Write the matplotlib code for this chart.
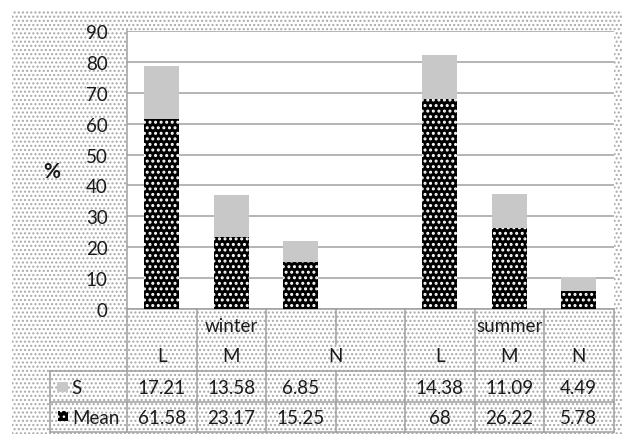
import numpy as np
import matplotlib
matplotlib.use("Agg")
import matplotlib.pyplot as plt
from matplotlib.patches import Rectangle
from matplotlib.lines import Line2D
from matplotlib.transforms import blended_transform_factory

plt.rcParams['font.family'] = ['Lato', 'DejaVu Sans']
plt.rcParams['hatch.linewidth'] = 1.0

# data
categories = ['L', 'M', 'N', '', 'L', 'M', 'N']
groups = ['winter', 'summer']
group_cols = [(0, 2), (4, 6)]
mean_vals = [61.58, 23.17, 15.25, np.nan, 68, 26.22, 5.78]
s_vals = [17.21, 13.58, 6.85, np.nan, 14.38, 11.09, 4.49]

W, H = 628, 435
GRID = '#a0a0a0'
TXT = '#1a1a1a'
FS = 13.5


def fx(px):
    return px / W


def fy(py):
    return 1 - py / H


fig = plt.figure(figsize=(W / 100, H / 100), dpi=100)

# dotted chart background
bg = Rectangle((fx(12), 0), fx(622) - fx(12), fy(12), transform=fig.transFigure,
               facecolor='white', edgecolor='#a8a8a8', hatch='....', linewidth=0, zorder=-5)
fig.patches.append(bg)

ax = fig.add_axes([fx(127), fy(310), fx(613.5) - fx(127), fy(32) - fy(310)])
ax.set_facecolor('white')

x = np.arange(len(categories))
mean = np.array(mean_vals)
s = np.array(s_vals)
mean_bars = ax.bar(x, mean, width=0.5, color='black', edgecolor='white', linewidth=0,
                   hatch='...', zorder=3)
for p in mean_bars:
    if hasattr(p, 'set_hatch_linewidth'):
        p.set_hatch_linewidth(1.4)
ax.bar(x, s, bottom=mean, width=0.5, color='#c8c8c8', linewidth=0, zorder=3)

ax.set_xlim(-0.5, len(categories) - 0.5)
ax.set_ylim(0, 90)
ax.set_yticks(range(0, 91, 10))
ax.set_xticks([])
ax.yaxis.grid(True, color=GRID, linewidth=1.1)
ax.set_axisbelow(True)
for side in ['top', 'right']:
    ax.spines[side].set_visible(False)
for side in ['left', 'bottom']:
    ax.spines[side].set_color(GRID)
    ax.spines[side].set_linewidth(1.1)
ax.tick_params(axis='y', length=0, pad=14, labelsize=FS, labelcolor=TXT)

fig.text(fx(52), fy(172), '%', ha='center', va='center', fontsize=15,
         fontweight='bold', color=TXT)

# data table under the axis
tr = blended_transform_factory(ax.transData, fig.transFigure)
y_top, y_mid, y_hdr, y_s, y_bot = 310, 345, 372, 403, 433


def vline(xd, p0, p1):
    fig.add_artist(Line2D([xd, xd], [fy(p0), fy(p1)], transform=tr,
                          color=GRID, linewidth=1.1))


def hline(py):
    fig.add_artist(Line2D([fx(50), fx(613.5)], [fy(py), fy(py)],
                          transform=fig.transFigure, color=GRID, linewidth=1.1))


for b in np.arange(-0.5, len(categories)):
    i = int(b + 0.5)
    if 0 < i < len(categories) and categories[i] == '':
        vline(b, y_top, y_mid)
        vline(b, y_hdr, y_bot)
    else:
        vline(b, y_top, y_bot)

for py in (y_hdr, y_s, y_bot):
    hline(py)
fig.add_artist(Line2D([fx(50), fx(50)], [fy(y_hdr), fy(y_bot)],
                      transform=fig.transFigure, color=GRID, linewidth=1.1))

for name, (a, b) in zip(groups, group_cols):
    fig.text((a + b) / 2, fy(326), name, transform=tr, ha='center', va='center',
             fontsize=FS, color=TXT)

for i, c in enumerate(categories):
    if not c:
        continue
    pos = i + 0.5 if i + 1 < len(categories) and categories[i + 1] == '' else i
    fig.text(pos, fy(357), c, transform=tr, ha='center', va='center',
             fontsize=FS, color=TXT)

for row_y, vals in ((388, s_vals), (419, mean_vals)):
    for i, v in enumerate(vals):
        if np.isnan(v):
            continue
        fig.text(i, fy(row_y), f'{v:g}', transform=tr, ha='center', va='center',
                 fontsize=FS, color=TXT)

# legend keys in the table
fig.patches.append(Rectangle((fx(57), fy(393)), fx(11), 10 / H, transform=fig.transFigure,
                             facecolor='#c8c8c8', linewidth=0))
fig.patches.append(Rectangle((fx(58), fy(422)), fx(10), 10 / H, transform=fig.transFigure,
                             facecolor='black', edgecolor='white', linewidth=0, hatch='...'))
fig.text(fx(71), fy(388), 'S', ha='left', va='center', fontsize=FS, color=TXT)
fig.text(fx(72), fy(419), 'Mean', ha='left', va='center', fontsize=FS, color=TXT)

fig.savefig('out.png', dpi=100)
